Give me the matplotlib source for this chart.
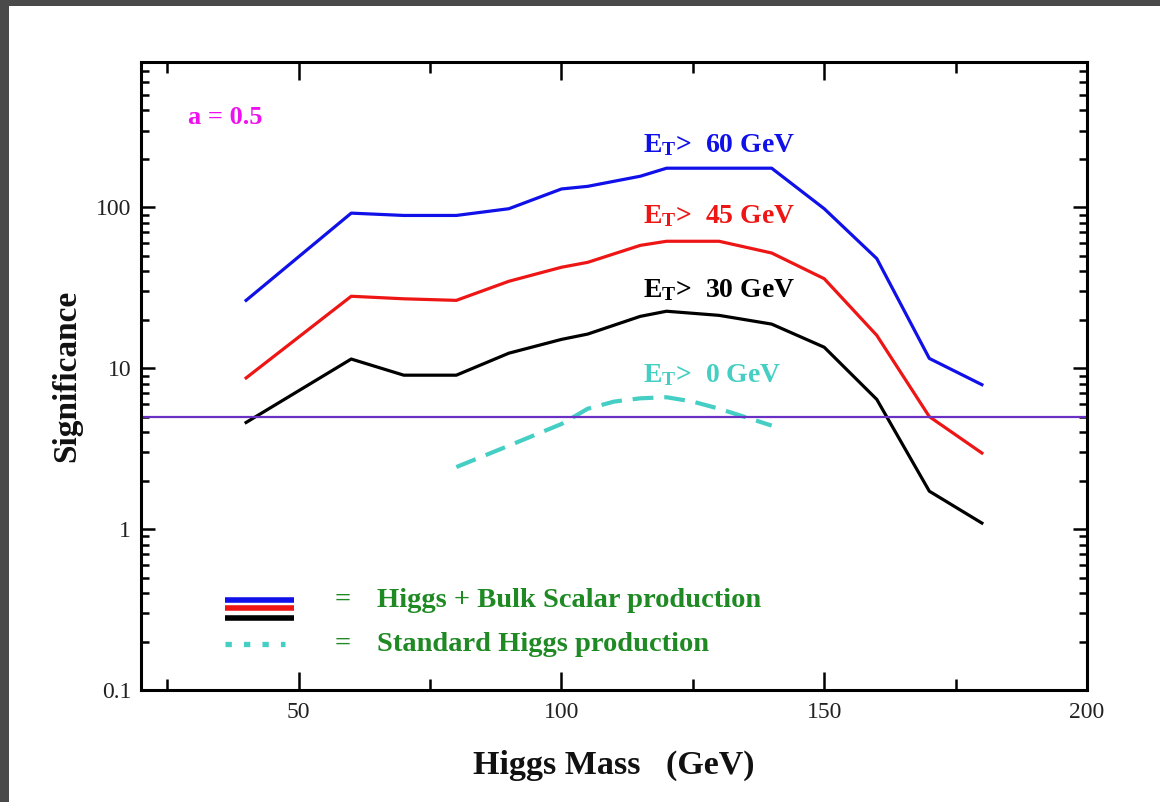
import matplotlib
matplotlib.use("Agg")
import matplotlib.pyplot as plt
from matplotlib.patches import Rectangle
from matplotlib.lines import Line2D
from matplotlib.ticker import LogLocator, NullFormatter, FixedLocator

plt.rcParams['font.family'] = ['Liberation Serif', 'DejaVu Serif']
plt.rcParams['mathtext.fontset'] = 'custom'
plt.rcParams['mathtext.rm'] = 'Liberation Serif'
plt.rcParams['mathtext.bf'] = 'Liberation Serif:bold'

# ---------------- data ----------------
mass_bulk = [40, 60, 70, 80, 90, 100, 105, 115, 120, 130, 140, 150, 160, 170, 180]
sig_et60 = [26.4, 92, 89, 89, 98, 130, 135, 156, 175, 175, 175, 98, 48, 11.5, 7.9]
sig_et45 = [8.7, 28, 27, 26.4, 34.7, 42.4, 45.5, 58, 61.5, 61.5, 52, 36, 16, 5.0, 2.97]
sig_et30 = [4.6, 11.4, 9.05, 9.05, 12.4, 15.1, 16.3, 21, 22.6, 21.3, 18.8, 13.5, 6.4, 1.72, 1.09]

mass_sm = [80, 90, 100, 105, 110, 115, 120, 125, 130, 140]
sig_et0 = [2.43, 3.3, 4.5, 5.6, 6.2, 6.5, 6.6, 6.2, 5.6, 4.4]

discovery_level = 5

x_ticks = [50, 100, 150, 200]
x_minor = [25, 75, 125, 175]
y_ticks = [0.1, 1, 10, 100]
y_ticklabels = ['0.1', '1', '10', '100']

C_BLUE = '#1010e8'
C_RED = '#ee1515'
C_BLACK = '#000000'
C_CYAN = '#45cfc4'
C_PURPLE = '#6a2fc4'
C_GREEN = '#1f8a24'
C_MAGENTA = '#ee10ee'

# ---------------- figure ----------------
W, H = 1160, 802
fig = plt.figure(figsize=(W / 100, H / 100), dpi=100)
fig.patch.set_facecolor('white')
# dark border strips (top and left)
fig.patches.append(Rectangle((0, 1 - 6 / H), 1, 6 / H, transform=fig.transFigure,
                             facecolor='#4a4a4a', edgecolor='none', zorder=0))
fig.patches.append(Rectangle((0, 0), 9 / W, 1, transform=fig.transFigure,
                             facecolor='#4a4a4a', edgecolor='none', zorder=0))

ax_l, ax_r, ax_t, ax_b = 141, 1087, 62, 690
ax = fig.add_axes([ax_l / W, 1 - ax_b / H, (ax_r - ax_l) / W, (ax_b - ax_t) / H])
ax.set_yscale('log')
ax.set_xlim(20, 200)
ax.set_ylim(0.1, 800)

# curves
ax.plot(mass_bulk, sig_et60, color=C_BLUE, lw=2.3)
ax.plot(mass_bulk, sig_et45, color=C_RED, lw=2.3)
ax.plot(mass_bulk, sig_et30, color=C_BLACK, lw=2.3)
ax.plot(mass_sm, sig_et0, color=C_CYAN, lw=3.0, linestyle=(0, (5, 2.6)))
ax.axhline(discovery_level, color=C_PURPLE, lw=1.6)

# axes styling
for s in ax.spines.values():
    s.set_linewidth(2.2)
ax.set_xticks(x_ticks)
ax.set_xticklabels([str(v) for v in x_ticks])
ax.xaxis.set_minor_locator(FixedLocator(x_minor))
ax.set_yticks(y_ticks)
ax.set_yticklabels(y_ticklabels)
ax.yaxis.set_minor_locator(LogLocator(base=10, subs=range(2, 10), numticks=20))
ax.yaxis.set_minor_formatter(NullFormatter())
ax.tick_params(axis='x', which='major', direction='in', length=13, width=1.8,
               top=True, bottom=True, labelsize=17, pad=9, labelcolor='#222222')
ax.tick_params(axis='x', which='minor', direction='in', length=8, width=1.8,
               top=True, bottom=True)
ax.tick_params(axis='y', which='major', direction='in', length=10, width=1.8,
               left=True, right=True, labelsize=17, pad=7, labelcolor='#222222')
ax.tick_params(axis='y', which='minor', direction='in', length=6, width=1.8,
               left=True, right=True)

# axis labels
fig.text(67 / W, 1 - 376 / H, 'Significance', rotation=90, ha='center', va='center',
         fontsize=24, fontweight='bold', color='#111111')
fig.text(614 / W, 1 - 765 / H, 'Higgs Mass   (GeV)', ha='center', va='center',
         fontsize=24.5, fontweight='bold', color='#111111')

# annotations
ax.text(28.9, 328, 'a = 0.5', color=C_MAGENTA, fontsize=19, fontweight='bold',
        ha='left', va='baseline')
lab_kw = dict(fontsize=20, fontweight='bold', ha='left', va='baseline')
ax.text(115.5, 220, r'$\mathbf{E_T}$>  60 GeV', color=C_BLUE, **lab_kw)
ax.text(115.5, 79.6, r'$\mathbf{E_T}$>  45 GeV', color=C_RED, **lab_kw)
ax.text(115.5, 27.6, r'$\mathbf{E_T}$>  30 GeV', color=C_BLACK, **lab_kw)
ax.text(115.5, 8.2, r'$\mathbf{E_T}$>  0 GeV', color=C_CYAN, **lab_kw)

# custom legend (axes coordinates)
lx0, lx1 = 0.0888, 0.1617
for yy, cc in [(0.1433, C_BLUE), (0.1301, C_RED), (0.1151, C_BLACK)]:
    ax.add_line(Line2D([lx0, lx1], [yy, yy], transform=ax.transAxes, color=cc,
                       lw=4, solid_capstyle='butt'))
ax.add_line(Line2D([lx0, 0.152], [0.0732, 0.0732], transform=ax.transAxes, color=C_CYAN,
                   lw=3.8, linestyle=(0, (1.2, 2.3)), dash_capstyle='butt'))
leg_kw = dict(transform=ax.transAxes, color=C_GREEN, fontsize=20.5, fontweight='bold',
              va='center')
ax.text(0.2135, 0.1433, '=', ha='center', **leg_kw)
ax.text(0.2495, 0.1433, 'Higgs + Bulk Scalar production', ha='left', **leg_kw)
ax.text(0.2135, 0.0732, '=', ha='center', **leg_kw)
ax.text(0.2495, 0.0732, 'Standard Higgs production', ha='left', **leg_kw)

fig.savefig('out.png', dpi=100)
